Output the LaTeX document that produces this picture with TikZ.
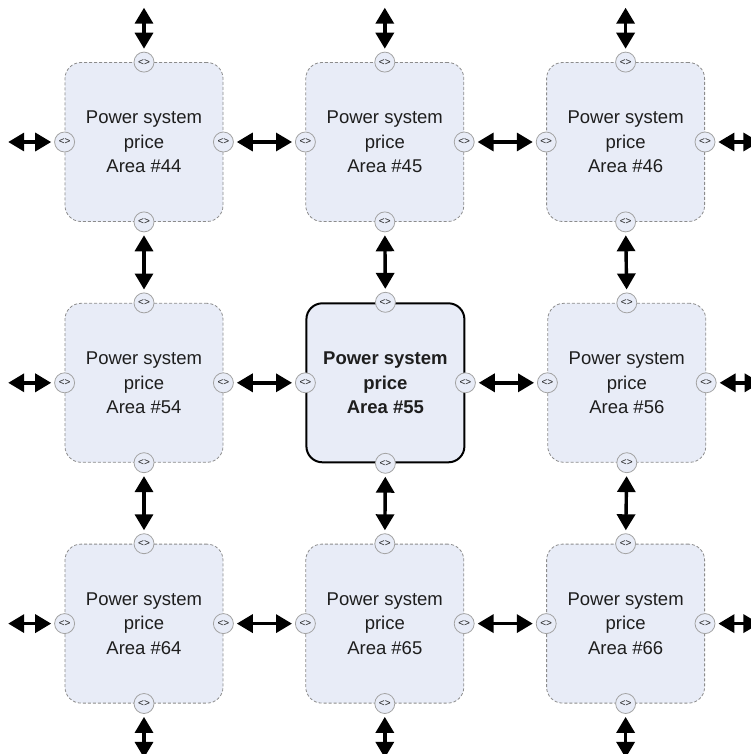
\documentclass[tikz,border=0pt]{standalone}
\usepackage{fontspec}
\setmainfont{Liberation Sans}
\usetikzlibrary{arrows.meta,positioning}
\definecolor{areafill}{RGB}{232,236,247}
\definecolor{rimgrey}{RGB}{140,140,140}
\definecolor{inkgrey}{RGB}{30,30,30}

\begin{document}
\begin{tikzpicture}[x=1pt,y=1pt, every node/.style={font=\fontsize{18.5}{24.5}\selectfont,text=inkgrey},
  area/.style={draw=rimgrey,densely dashed,line width=0.8pt,fill=areafill,rounded corners=16pt,
               minimum width=158pt,minimum height=159pt,align=center},
  hub/.style={draw=black,line width=2pt,fill=areafill,rounded corners=16pt,
              minimum width=158pt,minimum height=159pt,align=center,
              font=\fontsize{18.5}{24.5}\selectfont\bfseries},
  port/.style={circle,draw=rimgrey!80,fill=areafill,line width=0.8pt,minimum size=20pt,inner sep=0pt,
               font=\fontsize{10}{10}\selectfont},
  ar/.style={arrows={Triangle[length=16pt,width=18pt]-Triangle[length=16pt,width=18pt]},
             line width=3.4pt,shorten <=3pt,shorten >=3pt}]
\useasboundingbox (0,0) rectangle (751,-754);

\node[area] (a44) at (144,-142) {Power system\\price\\Area \#44};
\node[area,right=82pt of a44] (a45) {Power system\\price\\Area \#45};
\node[area,right=82pt of a45] (a46) {Power system\\price\\Area \#46};
\node[area,below=81pt of a44] (a54) {Power system\\price\\Area \#54};
\node[hub,right=82pt of a54] (a55) {Power system\\price\\Area \#55};
\node[area,right=82pt of a55] (a56) {Power system\\price\\Area \#56};
\node[area,below=81pt of a54] (a64) {Power system\\price\\Area \#64};
\node[area,right=82pt of a64] (a65) {Power system\\price\\Area \#65};
\node[area,right=82pt of a65] (a66) {Power system\\price\\Area \#66};

% ports on every side
\foreach \n in {44,45,46,54,55,56,64,65,66}
  \foreach \s/\d in {n/north,e/east,s/south,w/west}
    \node[port] (p\n-\s) at (a\n.\d) {<>};

\foreach \a/\b in {44/45, 45/46, 54/55, 55/56, 64/65, 65/66}
  \draw[ar] (p\a-e)--(p\b-w);
\foreach \a/\b in {44/54, 45/55, 46/56, 54/64, 55/65, 56/66}
  \draw[ar] (p\a-s)--(p\b-n);

% links leaving the grid
\foreach \n in {44,45,46} {
  \coordinate[above=47pt of p\n-n] (t\n); \draw[ar] (p\n-n)--(t\n);}
\foreach \n in {64,65,66} {
  \coordinate[below=47pt of p\n-s] (b\n); \draw[ar] (p\n-s)--(b\n);}
\foreach \n in {44,54,64} {
  \coordinate[left=49pt of p\n-w] (l\n); \draw[ar] (p\n-w)--(l\n);}
\foreach \n in {46,56,66} {
  \coordinate[right=47pt of p\n-e] (r\n); \draw[ar] (p\n-e)--(r\n);}
\end{tikzpicture}
\end{document}
